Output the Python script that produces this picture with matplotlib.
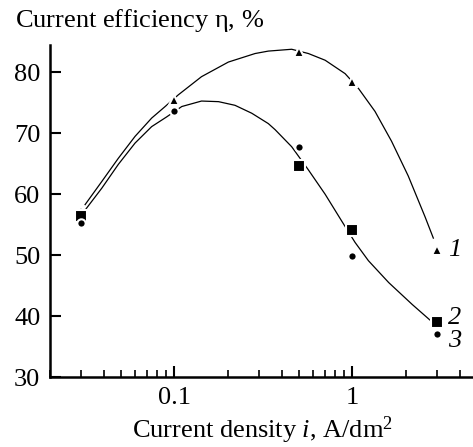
import numpy as np
import matplotlib
matplotlib.use("Agg")
import matplotlib.pyplot as plt
from matplotlib.ticker import FixedLocator, LogLocator, NullFormatter, FixedFormatter

plt.rcParams['font.family'] = 'Liberation Serif'
plt.rcParams['mathtext.fontset'] = 'custom'
plt.rcParams['mathtext.rm'] = 'Liberation Serif'
plt.rcParams['mathtext.it'] = 'Liberation Serif:italic'

# current density, A/dm2
density = [0.03, 0.1, 0.5, 1.0, 3.0]
# curve 1 (triangles)
eff_1 = [57.3, 75.5, 83.4, 78.5, 50.9]
# curve 2 (squares), no visible point at 0.1
density_2 = [0.03, 0.5, 1.0, 3.0]
eff_2 = [56.5, 64.6, 54.1, 39.0]
# curve 3 (circles)
eff_3 = [55.2, 73.6, 67.7, 49.8, 37.0]

# smooth trend lines as drawn in the figure
trend_1_x = [0.0315, 0.0391, 0.0484, 0.0601, 0.0745, 0.0887, 0.105, 0.142, 0.201,
             0.284, 0.337, 0.456, 0.566, 0.703, 0.910, 1.08, 1.34, 1.66, 2.06,
             2.30, 2.56, 2.85]
trend_1_y = [58.3, 62.1, 65.9, 69.5, 72.5, 74.4, 76.3, 79.3, 81.7,
             83.1, 83.5, 83.8, 83.1, 82.0, 79.8, 77.4, 73.6, 68.7, 63.0,
             59.6, 56.3, 52.8]
trend_23_x = [0.0302, 0.0391, 0.0484, 0.0601, 0.0745, 0.0905, 0.110, 0.142, 0.177,
              0.219, 0.272, 0.337, 0.368, 0.456, 0.566, 0.703, 0.871, 1.035,
              1.23, 1.60, 2.17, 2.79]
trend_23_y = [56.7, 61.0, 64.9, 68.4, 71.1, 72.7, 74.4, 75.3, 75.2,
              74.6, 73.3, 71.6, 70.6, 67.8, 64.0, 60.0, 55.6, 52.1,
              49.1, 45.5, 41.9, 39.1]

fig = plt.figure(figsize=(4.73, 4.47), dpi=100)
ax = fig.add_axes([50 / 473, 70 / 447, 422 / 473, 332 / 447])

ax.plot(trend_1_x, trend_1_y, color='black', lw=0.9, zorder=2)
ax.plot(trend_23_x, trend_23_y, color='black', lw=0.9, zorder=2)

# white marker edges leave small gaps in the lines, like the original
ax.plot(density, eff_1, ls='none', marker='^', ms=7, color='black',
        mec='white', mew=1.5, zorder=3)
ax.plot(density_2, eff_2, ls='none', marker='s', ms=8, color='black',
        mec='white', mew=1.5, zorder=3)
ax.plot(density, eff_3, ls='none', marker='o', ms=6, color='black',
        mec='white', mew=1.5, zorder=4)

for lab, val, dy in [('1', eff_1[-1], 0), ('2', eff_2[-1], 3), ('3', eff_3[-1], -5)]:
    ax.annotate(lab, (density[-1], val), xytext=(8, dy), textcoords='offset points',
                fontsize=19, style='italic', va='center', ha='left')

ax.set_xscale('log')
ax.set_xlim(0.02, 4.7)
ax.set_ylim(30, 84.5)
ax.xaxis.set_major_locator(FixedLocator([0.1, 1]))
ax.xaxis.set_major_formatter(FixedFormatter(['0.1', '1']))
ax.xaxis.set_minor_locator(LogLocator(base=10, subs=np.arange(2, 10), numticks=10))
ax.xaxis.set_minor_formatter(NullFormatter())
ax.set_yticks([30, 40, 50, 60, 70, 80])

for s in ['top', 'right']:
    ax.spines[s].set_visible(False)
for s in ['left', 'bottom']:
    ax.spines[s].set_linewidth(1.8)
ax.tick_params(which='major', direction='in', length=8, width=1.5, labelsize=19, pad=7)
ax.tick_params(which='minor', direction='in', length=5, width=1.2)

fig.text(15 / 473, 1 - 20 / 447, r'Current efficiency η, $\mathit{\%}$', fontsize=19,
         va='center', ha='left')
fig.text(262 / 473, 1 - 430 / 447, r'Current density $i$, A/dm$^2$', fontsize=19,
         va='center', ha='center')

fig.savefig('out.png', dpi=100)
